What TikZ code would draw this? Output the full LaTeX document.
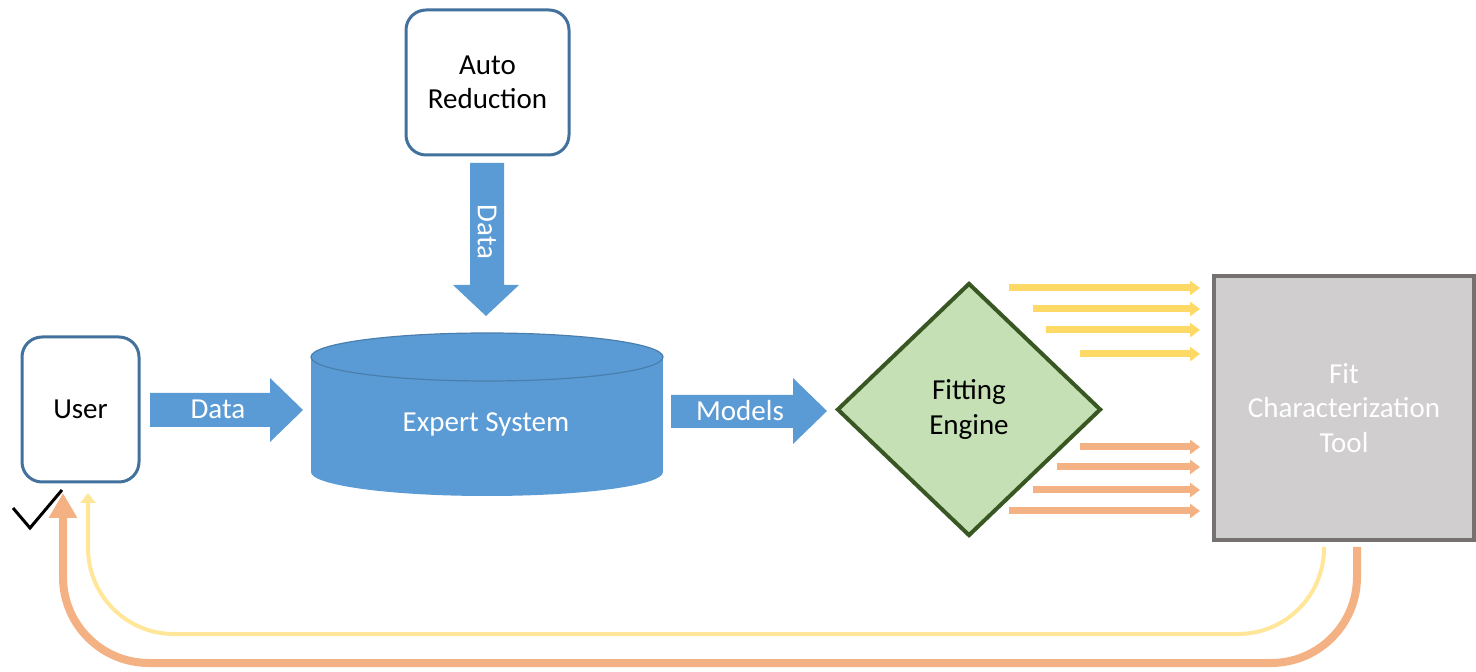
\documentclass[tikz,border=0pt]{standalone}
\usepackage{fontspec}
\setmainfont{Carlito}
\usetikzlibrary{shapes.geometric,arrows.meta}
\definecolor{bluefill}{HTML}{5B9BD5}
\definecolor{bluedark}{HTML}{41719C}
\definecolor{greenfill}{HTML}{C5E0B4}
\definecolor{greendark}{HTML}{385723}
\definecolor{grayfill}{HTML}{D0CECE}
\definecolor{graydark}{HTML}{767171}
\definecolor{yel}{HTML}{FFD966}
\definecolor{lyel}{HTML}{FFE699}
\definecolor{ora}{HTML}{F4B183}
\tikzset{
  x=0.5pt,y=-0.5pt,
  txt/.style={font=\fontsize{14.5}{17.3}\selectfont, align=center},
  roundbox/.style={draw=bluedark, fill=white, line width=1.5pt, rounded corners=10pt, txt},
  blockarrow/.style={fill=bluefill, draw=none},
  yarrow/.style={draw=yel, line width=3.5pt, -{Triangle[length=5pt,width=7pt]}},
  oarrow/.style={draw=ora, line width=3.5pt, -{Triangle[length=5pt,width=7pt]}},
}
\begin{document}
\begin{tikzpicture}
\useasboundingbox (0,0) rectangle (1476,672);

% nodes
\node[roundbox, minimum width=58.5pt, minimum height=72.5pt] (user) at (80.5,409.5) {User};
\node[roundbox, minimum width=81.5pt, minimum height=72.5pt] (auto) at (487.5,82.5) {Auto\\Reduction};

% cylinder
\fill[bluefill] (487,472) ellipse [x radius=176, y radius=24];
\fill[bluefill] (311,357) rectangle (663,472);
\fill[bluefill] (487,357) ellipse [x radius=176, y radius=24];
\draw[bluedark!70!bluefill, line width=0.6pt] (487,357) ellipse [x radius=176, y radius=24];
\node[txt, text=white] (expert) at (486,424) {Expert System};

\node[diamond, draw=greendark, fill=greenfill, line width=2pt, minimum width=132pt, minimum height=126.5pt, inner sep=0pt, txt] (fit) at (969,409.5) {Fitting\\Engine};

\node[rectangle, draw=graydark, fill=grayfill, line width=2pt, minimum width=130pt, minimum height=132pt, txt, text=white] (fct) at (1344,408) {Fit\\Characterization\\Tool};

% block arrows
\path[blockarrow] (150,393) -- (270,393) -- (270,378) -- (303,410) -- (270,442) -- (270,427) -- (150,427) -- cycle;
\node[txt, text=white] (d1) at (218,409) {Data};
\path[blockarrow] (671,395) -- (793,395) -- (793,378) -- (827,411) -- (793,444) -- (793,428) -- (671,428) -- cycle;
\node[txt, text=white] (m1) at (740,411) {Models};
\path[blockarrow] (470,163) -- (504,163) -- (504,285) -- (519,285) -- (486,316) -- (453,285) -- (470,285) -- cycle;
\node[txt, text=white, rotate=-90] (d2) at (487,232) {Data};

% yellow and orange arrows into the tool
\coordinate (ya) at (1009,288); \coordinate (yb) at (1033,309);
\coordinate (yc) at (1046,330); \coordinate (yd) at (1080,354);
\draw[yarrow] (ya) -- ([xshift=-6pt]ya -| fct.west);
\draw[yarrow] (yb) -- ([xshift=-6pt]yb -| fct.west);
\draw[yarrow] (yc) -- ([xshift=-6pt]yc -| fct.west);
\draw[yarrow] (yd) -- ([xshift=-6pt]yd -| fct.west);
\coordinate (oa) at (1080,447); \coordinate (ob) at (1057,467);
\coordinate (oc) at (1033,490); \coordinate (od) at (1009,511);
\draw[oarrow] (oa) -- ([xshift=-6pt]oa -| fct.west);
\draw[oarrow] (ob) -- ([xshift=-6pt]ob -| fct.west);
\draw[oarrow] (oc) -- ([xshift=-6pt]oc -| fct.west);
\draw[oarrow] (od) -- ([xshift=-6pt]od -| fct.west);

% feedback arrows
\coordinate (fy) at (1324,547);
\coordinate (uy) at (88,493);
\draw[lyel, line width=2pt, rounded corners=43pt, -{Triangle[length=5pt,width=7.5pt]}]
  (fy) -- (1324,634) -- (88,634) -- (uy);
\coordinate (fo) at (1357,547);
\coordinate (uo) at (63,493);
\draw[ora, line width=4pt, rounded corners=43pt, -{Triangle[length=12.5pt,width=13.5pt]}]
  (fo) -- (1357,663) -- (63,663) -- (uo);

% check mark
\draw[black, line width=1.5pt] (13,508) -- (30,528) -- (62,490);
\end{tikzpicture}
\end{document}
